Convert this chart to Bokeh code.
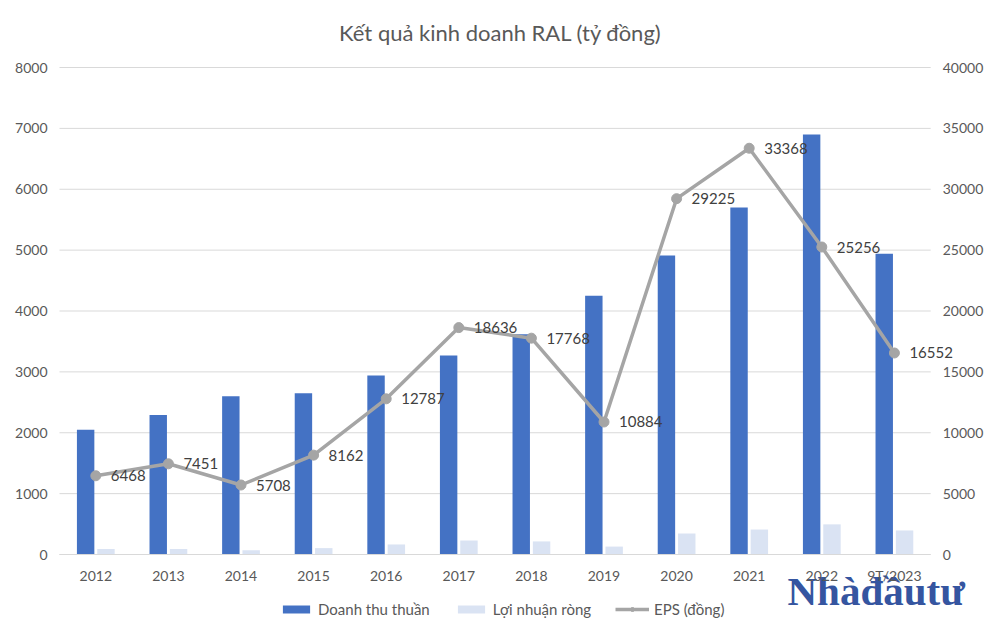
from bokeh.plotting import figure
from bokeh.models import (Range1d, LinearAxis, FixedTicker, Legend, LegendItem,
                          Label, ColumnDataSource, NumeralTickFormatter)
from bokeh.transform import dodge
from bokeh.embed import file_html
from bokeh.resources import INLINE
from bokeh.core.properties import value

years = ["2012", "2013", "2014", "2015", "2016", "2017", "2018", "2019",
         "2020", "2021", "2022", "9T/2023"]
revenue = [2050, 2290, 2600, 2650, 2940, 3270, 3620, 4250, 4910, 5700, 6900, 4940]
profit = [90, 90, 70, 105, 165, 230, 215, 130, 345, 410, 495, 395]
eps = [6468, 7451, 5708, 8162, 12787, 18636, 17768, 10884, 29225, 33368, 25256, 16552]
left_ticks = [0, 1000, 2000, 3000, 4000, 5000, 6000, 7000, 8000]
right_ticks = [0, 5000, 10000, 15000, 20000, 25000, 30000, 35000, 40000]

FONT = "Lato"
TXT = "#595959"
W, H = 984, 622
n = len(years)
idx = list(range(n))

# pixel layout (frame == whole canvas; axes placed at fixed data locations)
SX = 72.6          # px per category
C0 = 95.3          # px of first category centre
Y0 = 554.0         # px of value 0
SY = 487.0 / 8000  # px per unit (left axis)
ratio = right_ticks[-1] / left_ticks[-1]

x_start = -C0 / SX
x_end = x_start + W / SX
y_start = -(H - Y0) / SY
y_end = Y0 / SY

src = ColumnDataSource(dict(idx=idx, year=years, revenue=revenue, profit=profit,
                            eps=eps, eps_label=[str(v) for v in eps]))

p = figure(width=W, height=H, x_range=Range1d(x_start, x_end),
           y_range=Range1d(y_start, y_end), output_backend="svg",
           toolbar_location=None, x_axis_location=None, y_axis_location=None,
           min_border=0)
p.extra_y_ranges = {"eps": Range1d(y_start * ratio, y_end * ratio)}
p.title.visible = False
p.outline_line_color = None
p.background_fill_color = "white"
p.border_fill_color = "white"
for g in p.grid:
    g.visible = False

# gridlines spanning the category area only
p.segment(x0=-0.5, x1=n - 0.5, y0=left_ticks, y1=left_ticks,
          line_color="#D9D9D9", line_width=1, level="underlay")


def style_axis(ax, standoff):
    ax.major_tick_line_color = None
    ax.minor_tick_line_color = None
    ax.major_tick_out = 0
    ax.major_tick_in = 0
    ax.minor_tick_out = 0
    ax.minor_tick_in = 0
    ax.major_label_text_font = FONT
    ax.major_label_text_font_size = "14px"
    ax.major_label_text_color = TXT
    ax.major_label_standoff = standoff


# Left axis
ya = LinearAxis(fixed_location=-0.5, ticker=FixedTicker(ticks=left_ticks),
                formatter=NumeralTickFormatter(format="0"), bounds=(0, left_ticks[-1]))
ya.axis_line_color = None
style_axis(ya, 12)
p.add_layout(ya, "left")

# Right axis
ra = LinearAxis(y_range_name="eps", fixed_location=n - 0.5,
                ticker=FixedTicker(ticks=right_ticks),
                formatter=NumeralTickFormatter(format="0"), bounds=(0, right_ticks[-1]))
ra.axis_line_color = None
style_axis(ra, 12)
p.add_layout(ra, "right")

# x axis at value 0
xa = LinearAxis(fixed_location=0, ticker=FixedTicker(ticks=idx),
                major_label_overrides={i: y for i, y in zip(idx, years)},
                bounds=(-0.5, n - 0.5))
xa.axis_line_color = "#D9D9D9"
xa.axis_line_width = 1
style_axis(xa, 12)
p.add_layout(xa, "below")

r_rev = p.vbar(x=dodge("idx", -0.14), top="revenue", width=0.24,
               source=src, fill_color="#4472C4", line_color=None)
r_pro = p.vbar(x=dodge("idx", 0.14), top="profit", width=0.24,
               source=src, fill_color="#DAE3F3", line_color=None)
r_line = p.line(x="idx", y="eps", source=src, y_range_name="eps",
                line_color="#A5A5A5", line_width=3.5)
r_pts = p.scatter(x="idx", y="eps", source=src, y_range_name="eps", size=10,
                  fill_color="#A5A5A5", line_color="#A5A5A5")
p.text(x="idx", y="eps", text="eps_label", source=src, y_range_name="eps",
       x_offset=15, text_align="left", text_baseline="middle",
       text_font=value(FONT), text_font_size="15px", text_color="#404040")

# Title
p.add_layout(Label(x=(500 - C0) / SX, y=(Y0 - 32) / SY,
                   text="Kết quả kinh doanh RAL (tỷ đồng)", text_font=FONT,
                   text_font_size="22px", text_color=TXT, text_align="center",
                   text_baseline="middle"))

legend = Legend(items=[
    LegendItem(label="Doanh thu thuần", renderers=[r_rev]),
    LegendItem(label="Lợi nhuận ròng", renderers=[r_pro]),
    LegendItem(label="EPS (đồng)", renderers=[r_line, r_pts]),
], orientation="horizontal", location=(279, 4), border_line_color=None,
   background_fill_alpha=0, padding=0, margin=0, spacing=24,
   glyph_width=34, glyph_height=10, label_standoff=5,
   label_text_font=FONT, label_text_font_size="15px", label_text_color=TXT,
   label_height=16)
p.add_layout(legend, "center")

# Watermark logo text
p.add_layout(Label(x=(787 - C0) / SX, y=(Y0 - 590) / SY, text="Nhàđầutư",
                   text_font="Liberation Serif", text_font_size="41px",
                   text_font_style="bold", text_color="#3555A0",
                   text_baseline="middle", text_align="left", level="underlay"))

open("out.html", "w").write(file_html(p, INLINE))
